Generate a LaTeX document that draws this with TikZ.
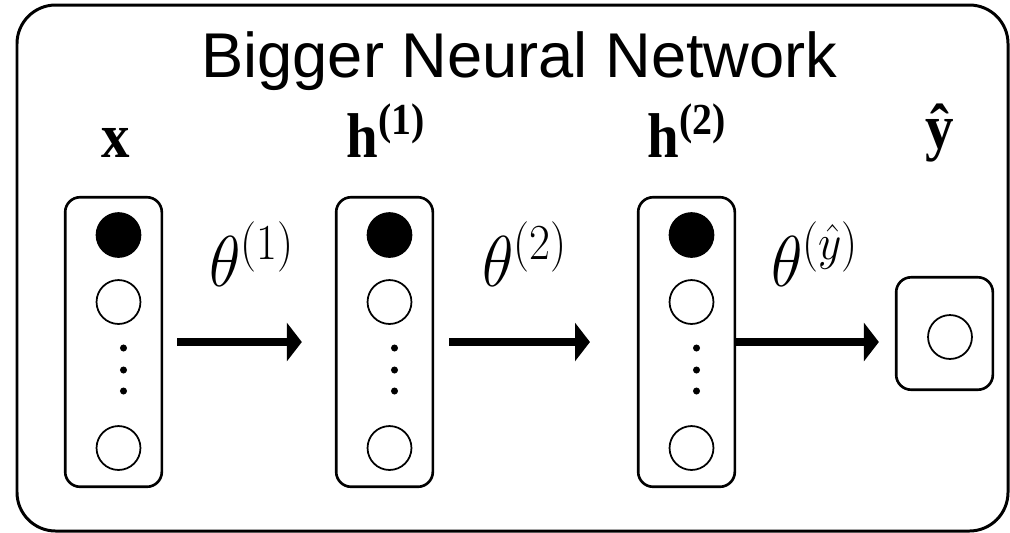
\RequirePackage{fix-cm}
\documentclass[tikz,border=0pt]{standalone}
\usepackage{graphicx}
\usepackage{fontspec}
\setmainfont{Liberation Sans}
\newfontfamily\labelfont{Liberation Serif}
\usetikzlibrary{arrows.meta}

\newcommand{\narrow}[1]{\scalebox{0.9}[1]{#1}}

\tikzset{
  layer/.style={draw, line width=1.5pt, rounded corners=8.5pt, minimum width=55pt, minimum height=164.8pt, inner sep=0pt},
  unit/.style={circle, draw, line width=1pt, minimum size=25pt, inner sep=0pt},
  bias/.style={unit, fill=black},
  vdot/.style={circle, fill=black, minimum size=4pt, inner sep=0pt},
  weight/.style={line width=4pt, -{Triangle[length=8.5pt, width=21.5pt]}},
  layername/.style={font=\labelfont\bfseries\fontsize{36}{40}\selectfont, anchor=base},
  thetalabel/.style={font=\fontsize{41}{44}\selectfont, anchor=base}
}

\begin{document}
\begin{tikzpicture}[x=0.02cm, y=-0.02cm]
	\useasboundingbox (0,0) rectangle (1010,532);
	% Рамка и заголовок
	\draw[line width=1.7pt, rounded corners=22pt] (17,5) rectangle (1008,531);
	\node[font=\fontsize{36}{40}\selectfont, anchor=base] (title) at (519.5,77) {Bigger Neural Network};
	
	% Слои
	\foreach \n/\cx in {1/113.5, 2/384.5, 3/686.5} {
		\node[layer] (l\n) at (\cx,342) {};
		\node[bias] (l\n-bias) at (\cx+5,235) {};
		\node[unit] (l\n-u) at (\cx+5,302) {};
		\foreach \dy in {348,370,391}
			\node[vdot] (l\n-d\dy) at (\cx+10,\dy) {};
		\node[unit] (l\n-last) at (\cx+5,448) {};
	}
	\node[layer, minimum height=64pt] (out) at (944.5,333.5) {};
	\node[unit] (out-u) at (950,337) {};
	
	% Подписи слоёв
	\node[layername] (x) at (116,157) {\narrow{x}};
	\node[layername] (h1) at (386,157) {\narrow{h\textsuperscript{(1)}}};
	\node[layername] (h2) at (687,157) {\narrow{h\textsuperscript{(2)}}};
	\node[layername] (yhat) at (940,148) {\narrow{ŷ}};
	
	% Веса
	\draw[weight, shorten <=8pt, shorten >=18.8pt] (l1) -- (l2);
	\draw[weight, shorten <=8.5pt, shorten >=26.7pt] (l2) -- (l3);
	\draw[weight, shorten >=9.1pt] (l3.east) -- (l3.east -| out.west);
	\node[thetalabel] (t1) at (252,286) {\narrow{$\theta^{(1)}$}};
	\node[thetalabel] (t2) at (525,286) {\narrow{$\theta^{(2)}$}};
	\node[thetalabel] (t3) at (815,286) {\narrow{$\theta^{(\hat{y})}$}};
\end{tikzpicture}
\end{document}
